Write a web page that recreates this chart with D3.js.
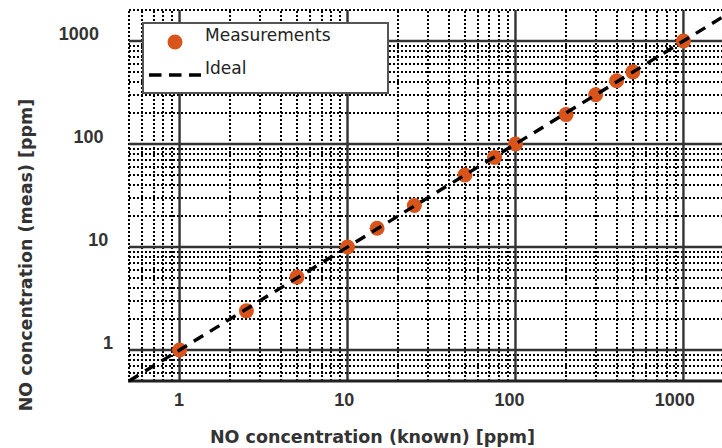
<!DOCTYPE html>
<html>
<head>
<meta charset="utf-8">
<script src="https://cdn.jsdelivr.net/npm/d3@7"></script>
<style>
  html, body { margin: 0; padding: 0; background: #fff; overflow: hidden; }
  svg { display: block; }
</style>
</head>
<body>
<svg id="chart" width="722" height="448"></svg>
<script>
// ---- data ----
const knownPpm = [1, 2.5, 5, 10, 15, 25, 50, 75, 100, 200, 300, 400, 500, 1000];
const measPpm  = [1, 2.4, 5.1, 10, 15.2, 25.3, 50, 74, 100, 193, 301, 411, 502, 1000];
const axisDomain = [0.5, 2000];
const majorTicks = [1, 10, 100, 1000];
const majorTickLabels = ["1", "10", "100", "1000"];
const xTitle = "NO concentration (known) [ppm]";
const yTitle = "NO concentration (meas) [ppm]";
const legendLabels = ["Measurements", "Ideal"];

// ---- layout ----
const svg = d3.select("#chart");
const x = d3.scaleLog().domain(axisDomain).range([129, 734]);
const y = d3.scaleLog().domain(axisDomain).range([381, 10]);

// minor grid values
const minorVals = [];
[0.1, 1, 10, 100, 1000].forEach(d => {
  for (let m = 2; m <= 9; m++) {
    const v = +(m * d).toPrecision(6);
    if (v >= axisDomain[0] && v <= axisDomain[1]) minorVals.push(v);
  }
});

const grid = svg.append("g");
const rx = d => Math.round(x(d));
const ry = d => Math.round(y(d));
// minor dotted
grid.selectAll("line.mx").data(minorVals).join("line")
  .attr("x1", rx).attr("x2", rx)
  .attr("y1", ry(axisDomain[0])).attr("y2", ry(axisDomain[1]))
  .attr("stroke", "#000").attr("stroke-width", 2).attr("stroke-dasharray", "2,2")
  .attr("shape-rendering", "crispEdges");
grid.selectAll("line.my").data(minorVals).join("line")
  .attr("y1", ry).attr("y2", ry)
  .attr("x1", rx(axisDomain[0])).attr("x2", rx(axisDomain[1]))
  .attr("stroke", "#000").attr("stroke-width", 2).attr("stroke-dasharray", "2,2")
  .attr("shape-rendering", "crispEdges");
// major solid
grid.selectAll("line.Mx").data(majorTicks).join("line")
  .attr("x1", d => x(d)).attr("x2", d => x(d))
  .attr("y1", y(axisDomain[0])).attr("y2", y(axisDomain[1]))
  .attr("stroke", "#333").attr("stroke-width", 2.4);
grid.selectAll("line.My").data(majorTicks).join("line")
  .attr("y1", d => y(d)).attr("y2", d => y(d))
  .attr("x1", x(axisDomain[0])).attr("x2", x(axisDomain[1]))
  .attr("stroke", "#333").attr("stroke-width", 2.4);
// bottom axis line
svg.append("line")
  .attr("x1", x(axisDomain[0]) - 1).attr("x2", x(axisDomain[1]))
  .attr("y1", y(axisDomain[0])).attr("y2", y(axisDomain[0]))
  .attr("stroke", "#222").attr("stroke-width", 2.8);

// axes (labels only)
const xAxis = d3.axisBottom(x).tickValues(majorTicks).tickSize(0)
  .tickFormat((d, i) => majorTickLabels[i]);
const gx = svg.append("g").attr("transform", `translate(0,${y(axisDomain[0])})`).call(xAxis);
gx.select(".domain").remove();
gx.selectAll("text")
  .attr("y", 25).attr("dy", 0)
  .attr("dx", (d, i) => -(majorTickLabels[i].length - 1) * 2.7 - 1)
  .style("font-family", "'Liberation Sans', Arial, sans-serif")
  .style("font-weight", "bold").style("font-size", "18px").attr("fill", "#333");

const yAxis = d3.axisLeft(y).tickValues(majorTicks).tickSize(0)
  .tickFormat((d, i) => majorTickLabels[i]);
const gy = svg.append("g").call(yAxis);
gy.select(".domain").remove();
gy.selectAll("text")
  .attr("x", (d, i) => 113 - (majorTickLabels[i].length - 1) * 4.7)
  .attr("y", -1.5).attr("dy", 0)
  .style("font-family", "'Liberation Sans', Arial, sans-serif")
  .style("font-weight", "bold").style("font-size", "18px").attr("fill", "#333");

// axis titles
svg.append("text").text(xTitle)
  .attr("x", 372.5).attr("y", 443).attr("text-anchor", "middle")
  .style("font-family", "'DejaVu Sans', sans-serif").style("font-weight", "bold")
  .style("font-size", "17.5px").attr("fill", "#333");
svg.append("text").text(yTitle)
  .attr("transform", "translate(32,255) rotate(-90)").attr("text-anchor", "middle")
  .style("font-family", "'DejaVu Sans', sans-serif").style("font-weight", "bold")
  .style("font-size", "17.5px").attr("fill", "#333");

// points
const pts = knownPpm.map((k, i) => ({k, m: measPpm[i]}));
svg.append("g").selectAll("circle").data(pts).join("circle")
  .attr("cx", d => x(d.k)).attr("cy", d => y(d.m)).attr("r", 7.5)
  .attr("fill", "#d9541b");

// ideal line
svg.append("path")
  .datum(axisDomain)
  .attr("d", d3.line().x(d => x(d)).y(d => y(d)))
  .attr("stroke", "#000").attr("stroke-width", 3.4).attr("fill", "none")
  .attr("stroke-dasharray", "11,8");

// legend
const lg = svg.append("g");
lg.append("rect").attr("x", 143).attr("y", 23).attr("width", 245).attr("height", 70)
  .attr("fill", "#fff").attr("stroke", "#555").attr("stroke-width", 2);
lg.append("circle").attr("cx", 175).attr("cy", 42).attr("r", 7.5).attr("fill", "#d9541b");
lg.append("line").attr("x1", 149).attr("x2", 201).attr("y1", 75).attr("y2", 75)
  .attr("stroke", "#000").attr("stroke-width", 3.6).attr("stroke-dasharray", "12.5,7.5");
lg.selectAll("text").data(legendLabels).join("text")
  .text(d => d).attr("x", 205).attr("y", (d, i) => i === 0 ? 41 : 74)
  .style("font-family", "'DejaVu Sans', sans-serif").style("font-size", "17px")
  .attr("fill", "#222");
</script>
</body>
</html>
